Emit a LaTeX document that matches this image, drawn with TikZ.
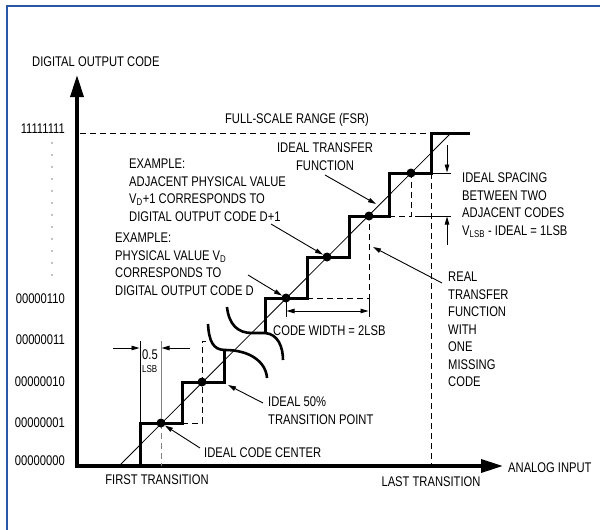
\documentclass[tikz,border=0pt]{standalone}
\usepackage{fontspec}
\setmainfont{Liberation Sans}[FakeStretch=0.8]
\usetikzlibrary{arrows.meta}

\definecolor{frameblue}{RGB}{42,86,166}

\tikzset{
    axis/.style={line width=3.5pt, -{Triangle[length=22pt, width=13pt]}},
    stair/.style={line width=3pt, line join=miter},
    break arc/.style={line width=2.6pt},
    ideal/.style={line width=0.8pt},
    guide/.style={dash pattern=on 6pt off 4pt, line width=1pt},
    pointer/.style={-{Triangle[length=8pt, width=4.5pt]}, line width=0.9pt},
    dim/.style={line width=0.9pt},
    lbl/.style={font=\fontsize{14}{17.5}\selectfont, inner sep=0pt, align=left},
    codept/.style={circle, fill=black, inner sep=0pt, minimum size=9pt},
}
\newcommand{\codedot}[2]{\node[codept] (#1) at #2 {};}

\begin{document}
\begin{tikzpicture}[x=1pt, y=-1pt]

    \useasboundingbox (0,0) rectangle (600,530);

    % frame on the left and top
    \draw[frameblue, line width=2.5pt] (7,530) -- (7,6) -- (600,6);

    % axes
    \coordinate (origin) at (77,466);
    \coordinate (ytip) at (77,75);
    \coordinate (xtip) at (503,466);
    \draw[axis] (77,467.75) -- (ytip);
    \draw[axis] (origin) -- (xtip);
    \node[lbl, anchor=west] (ylabel) at (32,62) {DIGITAL OUTPUT CODE};
    \node[lbl, anchor=west] (xlabel) at (508,468) {ANALOG INPUT};

    % output codes
    \foreach \code/\y in {11111111/129, 00000110/299, 00000011/340,
                          00000010/382, 00000001/423, 00000000/461}
        {\node[lbl, anchor=east] (code\code) at (65,\y) {\code};}
    \foreach \y in {143,155,...,275} {\fill (52,\y) circle (0.7pt);}

    % full-scale range and transitions
    \draw[guide] (80,133) -- (431,133);
    \node[lbl] (fsr) at (297,120) {FULL-SCALE RANGE (FSR)};
    \draw[guide] (431,173) -- (431,466);
    \node[lbl] (firsttr) at (157,480) {FIRST TRANSITION};
    \node[lbl] (lasttr) at (431,482) {LAST TRANSITION};

    % real transfer function (dashed)
    \draw[guide, gray] (161,423) -- (161,466);
    \draw[guide] (182,423) -- (202,423) -- (202,341) -- (210,341);
    \draw[guide] (307,298) -- (369,298) -- (369,216);
    \draw[guide] (389,216) -- (411,216) -- (411,173);

    % ideal transfer function
    \draw[ideal] (119,466) -- (451,133);

    % staircase with break
    \draw[stair] (140,466) -- (140,423) -- (182,423) -- (182,382)
        -- (224,382) -- (224,349);
    \draw[stair] (265,333) -- (265,298) -- (307,298) -- (307,257)
        -- (349,257) -- (349,216) -- (389,216) -- (389,173)
        -- (431,173) -- (431,133) -- (470,133);
    \draw[break arc] (208,324) .. controls (209,341) and (213,350) .. (225,350)
        .. controls (250,350) and (266,362) .. (267,378);
    \draw[break arc] (227,307) .. controls (229,325) and (238,333) .. (252,333)
        -- (265,333) .. controls (278,334) and (283,347) .. (283,360);

    % ideal code centres
    \codedot{d1}{(161,423)}
    \codedot{d2}{(202,382)}
    \codedot{d3}{(286,298)}
    \codedot{d4}{(327,257)}
    \codedot{d5}{(369,216)}
    \codedot{d6}{(411,173)}

    % half LSB
    \draw[dim] (140,341) -- (140,423);
    \draw[dim, gray] (161,341) -- (161,419);
    \coordinate (halfl) at (113,348);
    \coordinate (halfr) at (190,348);
    \draw[pointer] (halfl) -- (139.5,348);
    \draw[pointer] (halfr) -- (161.5,348);
    \node[lbl, anchor=west] (half) at (142,355) {0.5};
    \node[lbl, anchor=west, font=\fontsize{10}{12}\selectfont] (halflsb) at (142,369) {LSB};

    % code width
    \draw[dim] (286,302) -- (286,317);
    \draw[dim] (369,298) -- (369,317);
    \draw[dim, {Triangle[length=8pt, width=4.5pt]}-{Triangle[length=8pt, width=4.5pt]}]
        (286.5,311) -- (368.5,311);
    \node[lbl, anchor=west] (cwidth) at (273,331) {CODE WIDTH = 2LSB};

    % ideal spacing
    \draw[dim] (433,173) -- (451,173);
    \draw[dim] (415,216) -- (451,216);
    \coordinate (spaceup) at (447,145);
    \coordinate (spacedn) at (447,245);
    \draw[pointer] (spaceup) -- (447,172.5);
    \draw[pointer] (spacedn) -- (447,216.5);
    \node[lbl, anchor=north west] (spacing) at (462,173)
        {IDEAL SPACING\\BETWEEN TWO\\ADJACENT CODES\\V\textsubscript{LSB} - IDEAL = 1LSB};

    % callouts
    \node[lbl, anchor=west] (centre) at (204,453) {IDEAL CODE CENTER};
    \coordinate (centrefrom) at (200,448);
    \draw[pointer] (centrefrom) -- (d1);

    \node[lbl, anchor=north west] (halfpt) at (268,397) {IDEAL 50\%\\TRANSITION POINT};
    \coordinate (halfptfrom) at (263,403);
    \coordinate (halfptto) at (228,385);
    \draw[pointer] (halfptfrom) -- (halfptto);

    \node[lbl, anchor=north west] (physex) at (115,233)
        {EXAMPLE:\\PHYSICAL VALUE V\textsubscript{D}\\CORRESPONDS TO\\DIGITAL OUTPUT CODE D};
    \coordinate (physfrom) at (248,275);
    \draw[pointer] (physfrom) -- (d3);

    \node[lbl, anchor=north west] (adjex) at (129,159)
        {EXAMPLE:\\ADJACENT PHYSICAL VALUE\\V\textsubscript{D}+1 CORRESPONDS TO\\DIGITAL OUTPUT CODE D+1};
    \coordinate (adjfrom) at (271,224);
    \draw[pointer] (adjfrom) -- (d4);

    \node[lbl, anchor=north, align=center] (idealtf) at (325,143) {IDEAL TRANSFER\\FUNCTION};
    \coordinate (idealfrom) at (325,175);
    \coordinate (idealto) at (376,204);
    \draw[pointer] (idealfrom) -- (idealto);

    \node[lbl, anchor=north west] (realtf) at (448,272)
        {REAL\\TRANSFER\\FUNCTION\\WITH\\ONE\\MISSING\\CODE};
    \coordinate (realfrom) at (442,283);
    \coordinate (realto) at (373,247);
    \draw[pointer] (realfrom) -- (realto);

\end{tikzpicture}
\end{document}
